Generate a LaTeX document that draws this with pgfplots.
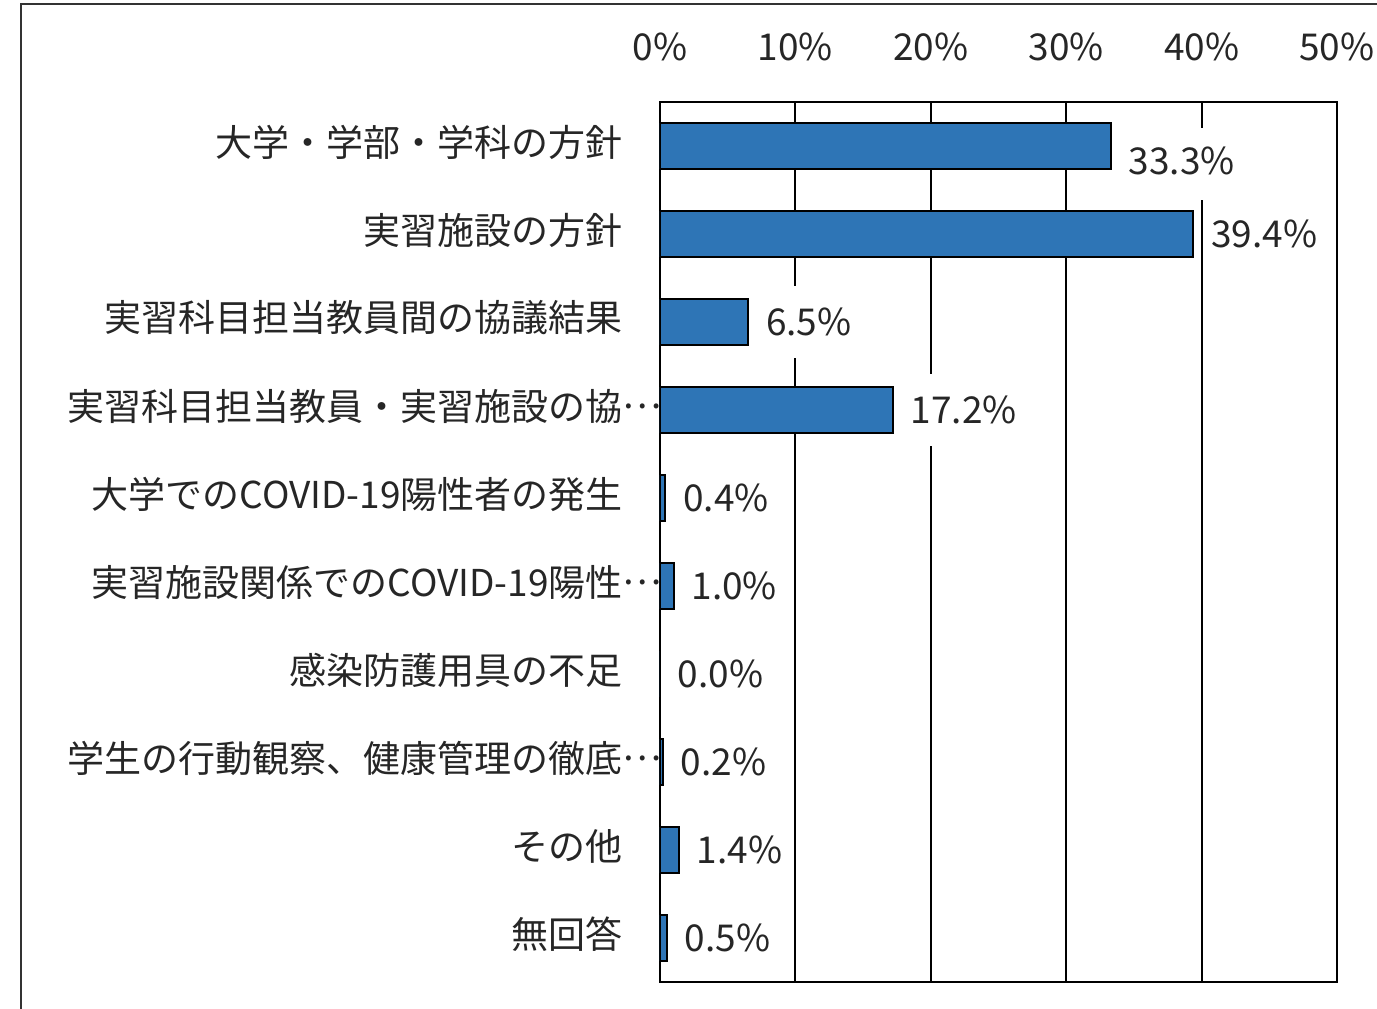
\documentclass[border=0pt]{standalone}
\usepackage{fontspec}
\setmainfont{Noto Sans CJK JP}
\usepackage{pgfplots}
\usepackage{pgfplotstable}
\pgfplotsset{compat=1.18}
\definecolor{barblue}{HTML}{2E75B6}
\definecolor{txt}{HTML}{262626}
\pgfplotstableread[col sep=comma]{
y,x,dy
1,33.3,-7.5
2,39.4,0
3,6.5,0
4,17.2,0
5,0.4,0
6,1.0,0
7,0.0,0
8,0.2,0
9,1.4,0
10,0.5,0
}\datatable
\begin{document}
\begin{tikzpicture}
\fontsize{18.5}{22}\selectfont
\useasboundingbox (-330pt,-13pt) rectangle (358.5pt,491pt);
\draw[line width=1.2pt, black!80] (-319.5pt,-14pt) -- (-319.5pt,489pt) -- (360pt,489pt);
\begin{axis}[
  at={(0,0)}, anchor=south west,
  scale only axis,
  width=338.5pt, height=440pt,
  xmin=0, xmax=50, ymin=0.5, ymax=10.5,
  y dir=reverse,
  unbounded coords=jump,
  xtick={0,10,20,30,40,50},
  xticklabel pos=upper,
  xticklabel={\pgfmathprintnumber{\tick}\%},
  xticklabel style={yshift=14pt, text=txt},
  ytick={1,...,10},
  yticklabels={大学・学部・学科の方針,実習施設の方針,実習科目担当教員間の協議結果,実習科目担当教員・実習施設の協\rlap{\raisebox{0.3em}{…}},大学でのCOVID-19陽性者の発生,実習施設関係でのCOVID-19陽性\rlap{\raisebox{0.3em}{…}},感染防護用具の不足,学生の行動観察、健康管理の徹底\rlap{\raisebox{0.3em}{…}},その他,無回答},
  yticklabel style={xshift=-12.3pt, yshift=2pt, text=txt},
  major tick length=0pt,
  axis line style={line width=1pt, black},
  /pgf/number format/assume math mode=true,
  tick label style={font=\fontsize{18.5}{22}\selectfont},
]
% vertical grid lines, broken where the value labels sit
\addplot[black, line width=1pt, forget plot] coordinates {(10,0.5) (10,2.591) (10,nan) (10,3.409) (10,10.5)};
\addplot[black, line width=1pt, forget plot] coordinates {(20,0.5) (20,3.591) (20,nan) (20,4.409) (20,10.5)};
\addplot[black, line width=1pt, forget plot] coordinates {(30,0.5) (30,10.5)};
\addplot[black, line width=1pt, forget plot] coordinates {(40,0.5) (40,0.7955) (40,nan) (40,1.6136) (40,10.5)};
\addplot[xbar, bar width=23pt, bar shift=0pt, fill=barblue, draw=black, line width=1pt,
  visualization depends on=\thisrow{dy}\as\dy,
  point meta=x,
  nodes near coords={\pgfmathprintnumber[fixed,fixed zerofill,precision=1]{\pgfplotspointmeta}\%},
  nodes near coords align=horizontal,
  every node near coord/.append style={anchor=west, inner sep=1.5pt, xshift=7pt, yshift=\dy pt, text=txt, font=\fontsize{18.5}{22}\selectfont, /pgf/number format/assume math mode=true},
] table[x=x, y=y] {\datatable};
\end{axis}
\end{tikzpicture}
\end{document}
